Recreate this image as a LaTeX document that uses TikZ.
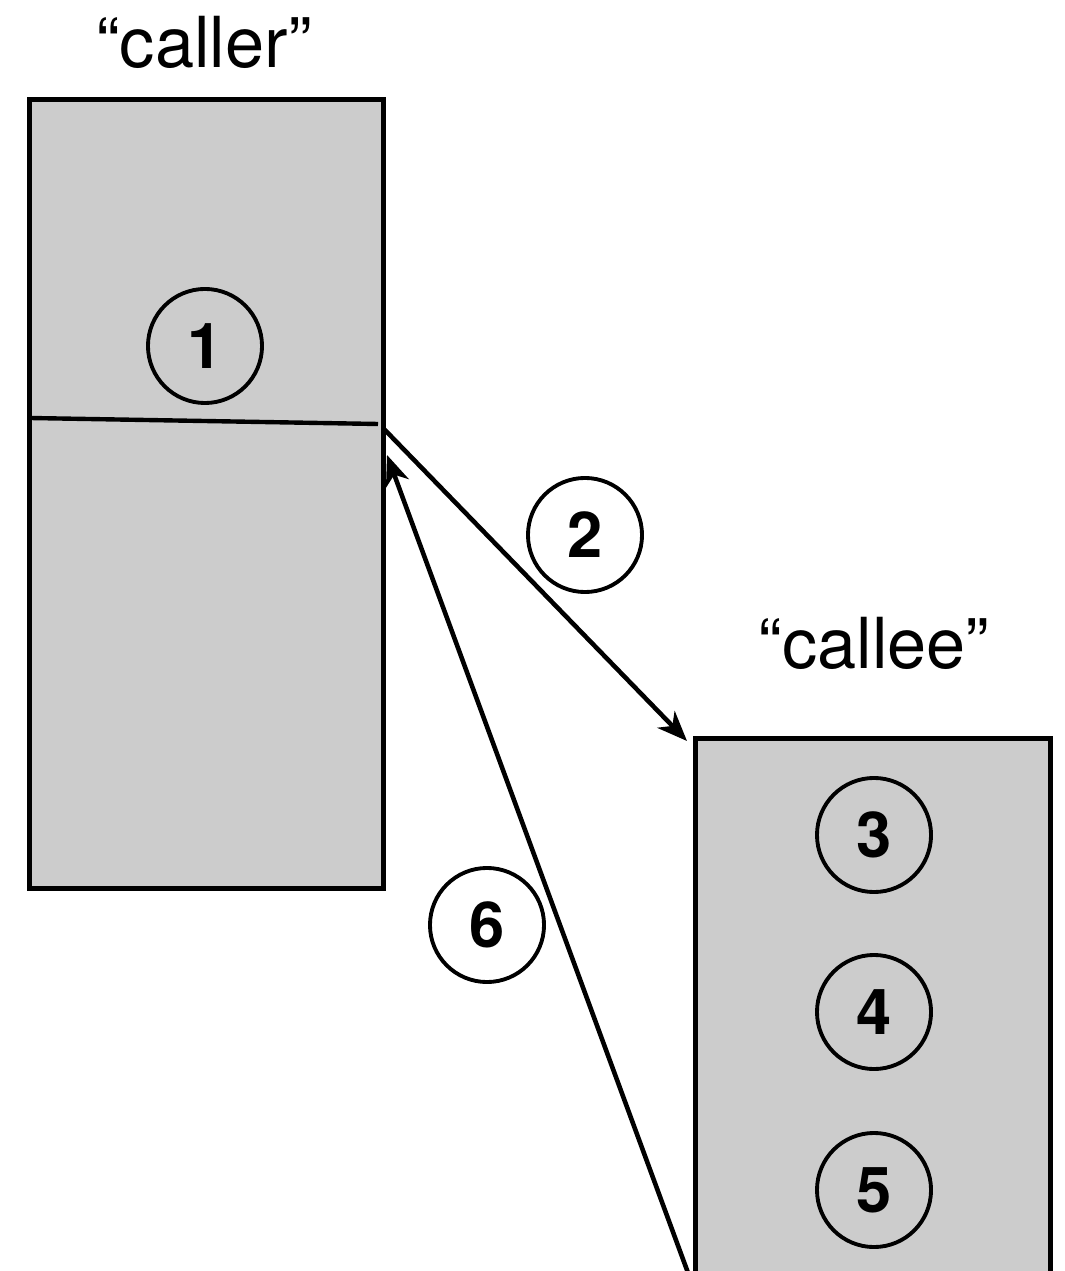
\documentclass[tikz,border=0pt]{standalone}
\usepackage{fontspec}
\setmainfont{TeX Gyre Heros}
\usetikzlibrary{arrows.meta}
\begin{document}
\begin{tikzpicture}[x=0.01cm,y=-0.01cm,
  frame/.style={draw=black,line width=1.4pt,fill=black!20,inner sep=0pt},
  step circle/.style={circle,draw=black,line width=1.1pt,minimum size=1.14cm,inner sep=0pt,font=\fontsize{18}{18}\selectfont\bfseries},
  title/.style={font=\fontsize{20}{22}\selectfont},
  flow/.style={line width=1.3pt,-{Stealth[length=0.3cm,width=0.24cm,inset=0.09cm]}}]
  \useasboundingbox (0,0) rectangle (1064,1271);
  \clip (0,0) rectangle (1064,1271);

  % the two frames
  \node[frame,minimum width=3.53cm,minimum height=7.88cm] (caller) at (206.5,494) {};
  \node[frame,minimum width=3.54cm,minimum height=5.8cm] (callee) at (873,1029) {};
  \draw[line width=1.25pt] (30,418) coordinate (divl) -- (378,424) coordinate (divr);

  % titles
  \node[title] (callerlbl) at (204,42) {“caller”};
  \node[title] (calleelbl) at (874,643) {“callee”};

  % numbered steps
  \node[step circle,fill=black!20] (s1) at (205,346) {1};
  \node[step circle] (s2) at (585,535) {2};
  \node[step circle,fill=black!20] (s3) at (874,835) {3};
  \node[step circle,fill=black!20] (s4) at (874,1012) {4};
  \node[step circle,fill=black!20] (s5) at (874,1190) {5};
  \node[step circle] (s6) at (487,925) {6};

  % call and return
  \coordinate (callout) at (383,428);
  \coordinate (callin) at (687,741);
  \coordinate (retout) at (698,1300);
  \coordinate (retin) at (387,455);
  \draw[flow] (callout) -- (callin);
  \draw[flow] (retout) -- (retin);
\end{tikzpicture}
\end{document}
